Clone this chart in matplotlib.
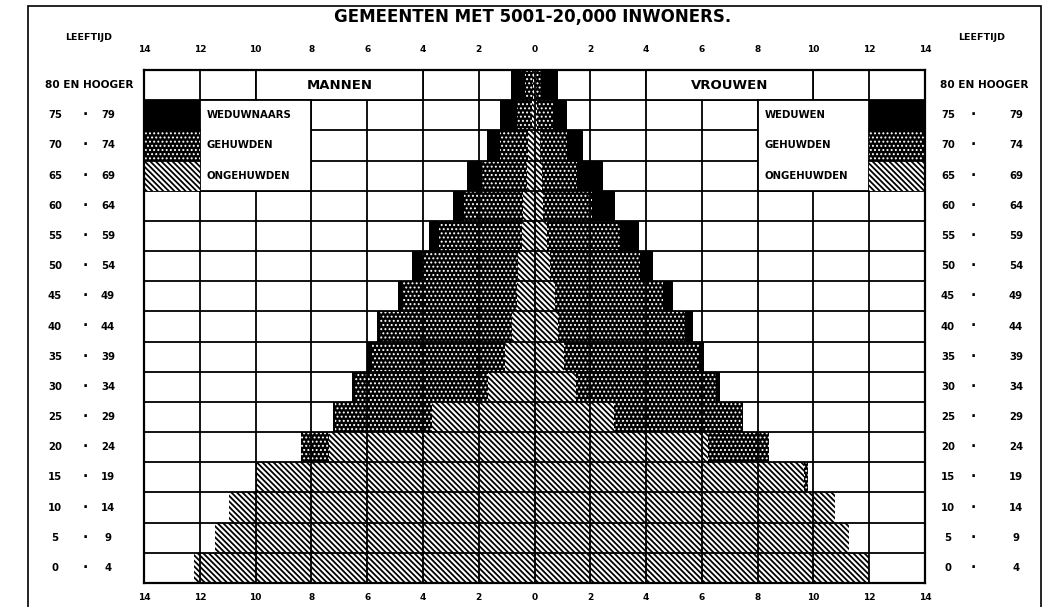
import matplotlib
matplotlib.use("Agg")
import matplotlib.pyplot as plt
from matplotlib.patches import Rectangle

plt.rcParams['font.family'] = ['DejaVu Sans']
plt.rcParams['hatch.linewidth'] = 1.3

# ---- data (rows from youngest to oldest) ----
ages_lo = ["0", "5", "10", "15", "20", "25", "30", "35", "40", "45", "50", "55", "60", "65", "70", "75"]
ages_hi = ["4", "9", "14", "19", "24", "29", "34", "39", "44", "49", "54", "59", "64", "69", "74", "79"]
top_age = "80 EN HOOGER"

men_ongehuwd = [12.2, 11.45, 10.95, 9.95, 7.36, 3.66, 1.65, 1.04, 0.79, 0.63, 0.59, 0.45, 0.41, 0.27, 0.23, 0.08, 0.05]
men_gehuwd = [0.0, 0.0, 0.0, 0.05, 1.0, 3.5, 4.77, 4.77, 4.74, 4.07, 3.43, 2.96, 2.13, 1.6, 0.99, 0.55, 0.3]
men_weduw = [0.0, 0.0, 0.0, 0.0, 0.0, 0.05, 0.11, 0.18, 0.1, 0.18, 0.36, 0.39, 0.39, 0.54, 0.47, 0.6, 0.5]

women_ongehuwd = [11.99, 11.27, 10.77, 9.66, 6.21, 2.84, 1.47, 1.04, 0.86, 0.72, 0.56, 0.45, 0.3, 0.27, 0.2, 0.08, 0.05]
women_gehuwd = [0.0, 0.0, 0.0, 0.14, 2.19, 4.6, 5.03, 4.85, 4.52, 3.87, 3.23, 2.62, 1.76, 1.26, 0.97, 0.6, 0.2]
women_weduw = [0.0, 0.0, 0.0, 0.0, 0.0, 0.03, 0.14, 0.18, 0.29, 0.39, 0.47, 0.68, 0.83, 0.93, 0.57, 0.5, 0.6]

tick_values = [-14, -12, -10, -8, -6, -4, -2, 0, 2, 4, 6, 8, 10, 12, 14]
tick_labels = ["14", "12", "10", "8", "6", "4", "2", "0", "2", "4", "6", "8", "10", "12", "14"]

title = "GEMEENTEN MET 5001-20,000 INWONERS."
legend_men = ["WEDUWNAARS", "GEHUWDEN", "ONGEHUWDEN"]
legend_women = ["WEDUWEN", "GEHUWDEN", "ONGEHUWDEN"]

# ---- figure ----
W, H = 1063, 607
fig = plt.figure(figsize=(W / 100, H / 100), dpi=100)

def fx(px):
    return px / W

def fy(py):
    return 1 - py / H

ax_l, ax_r, ax_t, ax_b = 144, 925, 70, 583
ax = fig.add_axes([fx(ax_l), fy(ax_b), fx(ax_r) - fx(ax_l), fy(ax_t) - fy(ax_b)])
n = len(men_ongehuwd)
ax.set_xlim(-14, 14)
ax.set_ylim(0, n)
ax.set_xticks([])
ax.set_yticks([])
for s in ax.spines.values():
    s.set_linewidth(1.6)
    s.set_color('black')
    s.set_zorder(10)

rows = list(range(n))
HATCH = '\\' * 6
hatch_style = dict(facecolor='white', edgecolor='black', hatch=HATCH, linewidth=0)
dot_style = dict(facecolor='black', edgecolor='white', hatch='....', linewidth=0)
black_style = dict(facecolor='black', edgecolor='black', linewidth=0)

def set_hlw(patches, lw):
    for p in patches:
        try:
            p.set_hatch_linewidth(lw)
        except AttributeError:
            pass

STRIPE_LW = 1.3
DOT_LW = 0.9

# men (left, negative)
m_on = [-v for v in men_ongehuwd]
m_ge = [-v for v in men_gehuwd]
m_we = [-v for v in men_weduw]
b1 = ax.barh(rows, m_on, height=1, align='edge', zorder=2, **hatch_style)
b2 = ax.barh(rows, m_ge, left=m_on, height=1, align='edge', zorder=2, **dot_style)
ax.barh(rows, m_we, left=[a + b for a, b in zip(m_on, m_ge)], height=1, align='edge', zorder=2, **black_style)

# women (right)
b3 = ax.barh(rows, women_ongehuwd, height=1, align='edge', zorder=2, **hatch_style)
b4 = ax.barh(rows, women_gehuwd, left=women_ongehuwd, height=1, align='edge', zorder=2, **dot_style)
ax.barh(rows, women_weduw, left=[a + b for a, b in zip(women_ongehuwd, women_gehuwd)],
        height=1, align='edge', zorder=2, **black_style)
set_hlw(list(b1) + list(b3), STRIPE_LW)
set_hlw(list(b2) + list(b4), DOT_LW)

# grid on top
for x in range(-12, 13, 2):
    ax.axvline(x, color='black', lw=1.3, zorder=3)
for y in range(1, n):
    ax.axhline(y, color='black', lw=1.3, zorder=3)

# header boxes in top row
ax.add_patch(Rectangle((-10, n - 1), 6, 1, facecolor='white', edgecolor='black', lw=1.3, zorder=4))
ax.add_patch(Rectangle((4, n - 1), 6, 1, facecolor='white', edgecolor='black', lw=1.3, zorder=4))
ax.text(-7, n - 0.5, "MANNEN", ha='center', va='center', fontsize=9.5, fontweight='bold', zorder=5)
ax.text(7, n - 0.5, "VROUWEN", ha='center', va='center', fontsize=9.5, fontweight='bold', zorder=5)

# legend boxes
ax.add_patch(Rectangle((-12, n - 4), 4, 3, facecolor='white', edgecolor='black', lw=1.3, zorder=4))
ax.add_patch(Rectangle((8, n - 4), 4, 3, facecolor='white', edgecolor='black', lw=1.3, zorder=4))
styles = [black_style, dot_style, hatch_style]
hlws = [None, DOT_LW, STRIPE_LW]
for i, st in enumerate(styles):
    yb = n - 2 - i
    p1 = ax.add_patch(Rectangle((-14, yb), 2, 1, zorder=4, **st))
    p2 = ax.add_patch(Rectangle((12, yb), 2, 1, zorder=4, **st))
    if hlws[i] is not None:
        set_hlw([p1, p2], hlws[i])
    ax.text(-11.75, yb + 0.5, legend_men[i], ha='left', va='center', fontsize=7.3, fontweight='bold', zorder=5)
    ax.text(8.25, yb + 0.5, legend_women[i], ha='left', va='center', fontsize=7.3, fontweight='bold', zorder=5)
for yb in [n - 2, n - 3]:
    ax.plot([-14, -12], [yb, yb], color='black', lw=1.3, zorder=5)
    ax.plot([12, 14], [yb, yb], color='black', lw=1.3, zorder=5)

# tick labels top and bottom
for v, lab in zip(tick_values, tick_labels):
    xp = ax_l + (v + 14) / 28 * (ax_r - ax_l)
    fig.text(fx(xp), fy(50), lab, ha='center', va='center', fontsize=6.5, fontweight='bold')
    fig.text(fx(xp), fy(598), lab, ha='center', va='center', fontsize=6.5, fontweight='bold')

# age labels
row_h = (ax_b - ax_t) / n
for i in range(n):
    yc = ax_b - (i + 0.5) * row_h
    if i == n - 1:
        fig.text(fx(89), fy(yc), top_age, ha='center', va='center', fontsize=7.6, fontweight='bold')
        fig.text(fx(984), fy(yc), top_age, ha='center', va='center', fontsize=7.6, fontweight='bold')
    else:
        for (xa, xd, xb) in [(55, 85, 108), (948, 973, 1016)]:
            fig.text(fx(xa), fy(yc), ages_lo[i], ha='center', va='center', fontsize=7.3, fontweight='bold')
            fig.text(fx(xd), fy(yc), "\u00b7", ha='center', va='center', fontsize=10, fontweight='bold')
            fig.text(fx(xb), fy(yc), ages_hi[i], ha='center', va='center', fontsize=7.3, fontweight='bold')

fig.text(fx(89), fy(37), "LEEFTIJD", ha='center', va='center', fontsize=6.8, fontweight='bold')
fig.text(fx(982), fy(37), "LEEFTIJD", ha='center', va='center', fontsize=6.8, fontweight='bold')

fig.text(fx(533), fy(17), title, ha='center', va='center', fontsize=12, fontweight='bold')

# outer frame
fig.add_artist(Rectangle((fx(28), fy(612)), fx(1041) - fx(28), fy(6) - fy(612),
                         transform=fig.transFigure, fill=False, edgecolor='black', lw=1.2))

fig.savefig("out.png", dpi=100)
